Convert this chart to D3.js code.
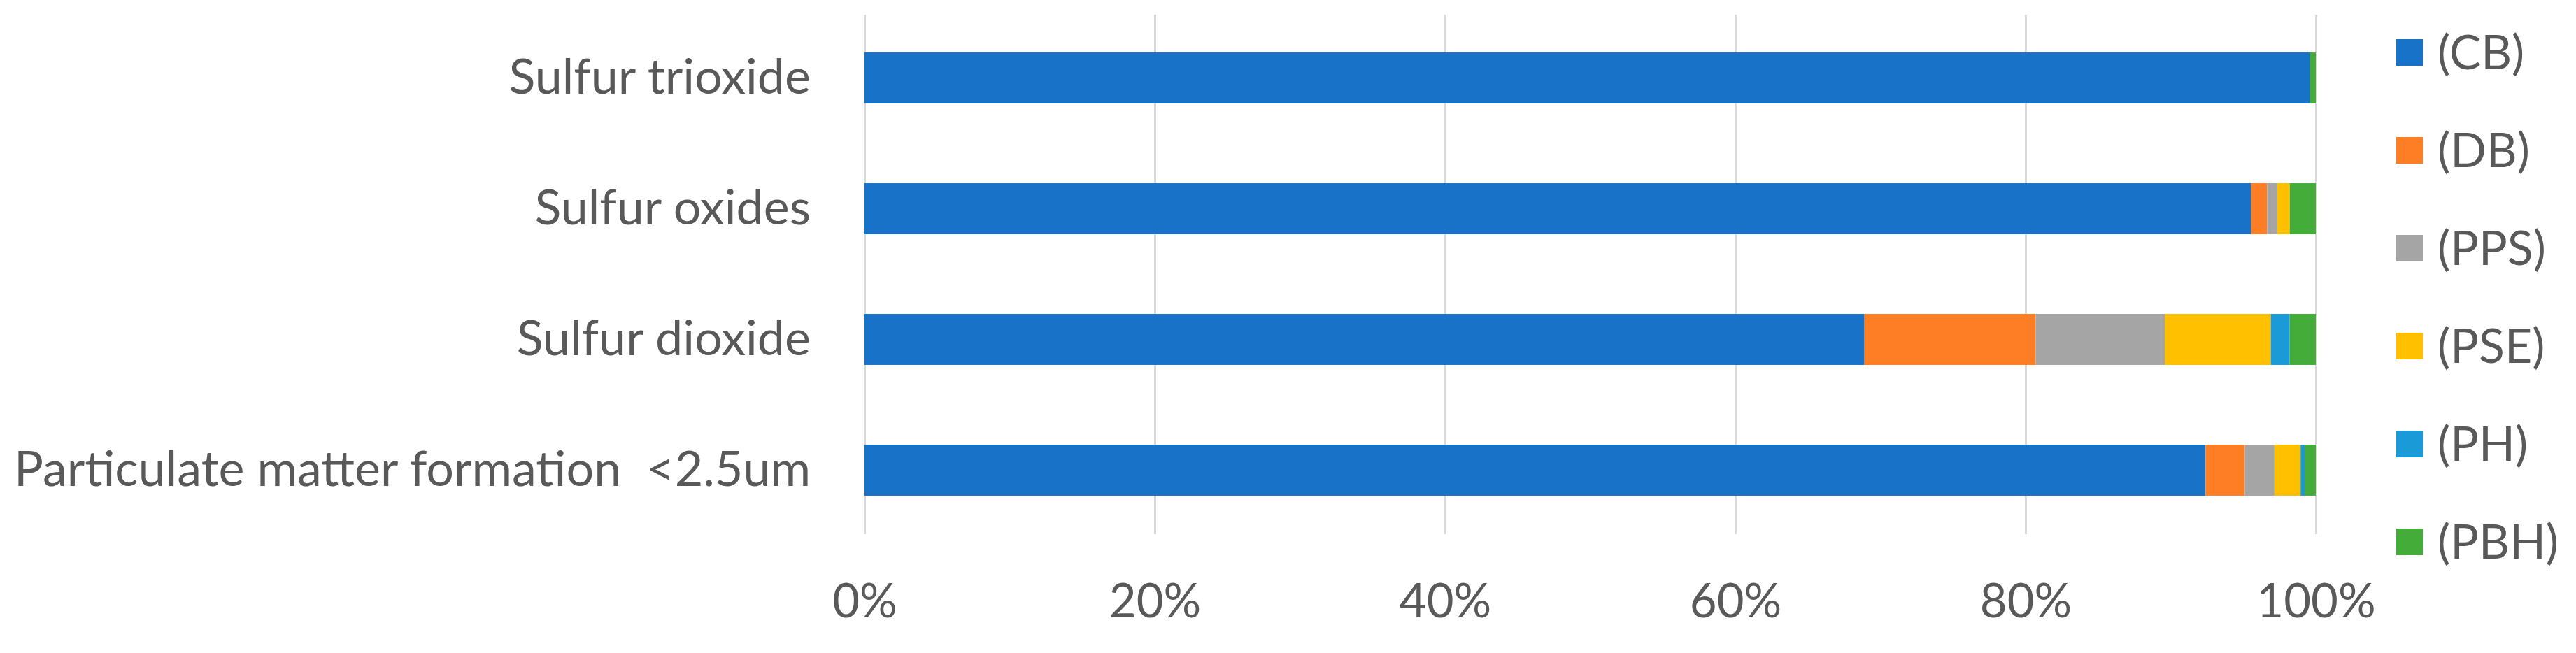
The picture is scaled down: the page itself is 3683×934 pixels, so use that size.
<!DOCTYPE html>
<html>
<head>
<meta charset="utf-8">
<script src="https://cdn.jsdelivr.net/npm/d3@7"></script>
<style>
body { margin: 0; background: #fff; }
text { font-family: Lato, "Open Sans", sans-serif; fill: #595959; }
</style>
</head>
<body>
<div id="vis"></div>
<script>
//data (share of each impact, %)
var categories = ["Sulfur trioxide", "Sulfur oxides", "Sulfur dioxide", "Particulate matter formation  <2.5um"];
var seriesNames = ["(CB)", "(DB)", "(PPS)", "(PSE)", "(PH)", "(PBH)"];
var CB  = [99.6, 95.5, 68.9, 92.4];
var DB  = [0,    1.1,  11.8, 2.7];
var PPS = [0,    0.7,  8.9,  2.05];
var PSE = [0,    0.85, 7.3,  1.8];
var PH  = [0,    0,    1.3,  0.3];
var PBH = [0.4,  1.8,  1.8,  0.75];
var tickValues = [0, 0.2, 0.4, 0.6, 0.8, 1];
var tickLabels = ["0%", "20%", "40%", "60%", "80%", "100%"];

var seriesColors = ["#1772C8", "#FD7E24", "#A5A5A5", "#FFC000", "#1A9BD8", "#44AD3A"];

//build the rows for the stack
var allSeries = [CB, DB, PPS, PSE, PH, PBH];
var rows = categories.map(function(c, i) {
  var r = {category: c};
  seriesNames.forEach(function(s, j) { r[s] = allSeries[j][i]; });
  return r;
});

var stack = d3.stack()
.keys(seriesNames)
.offset(d3.stackOffsetExpand);
var stacked = stack(rows);

var w = 3683;
var h = 934;

var svg = d3.select("#vis")
.append("svg")
.attr("width", w)
.attr("height", h);

//scales
var x = d3.scaleLinear()
.domain([0, 1])
.range([1236, 3311]);

var y = d3.scaleBand()
.domain(categories)
.range([18, 766])
.paddingInner(0.61)
.paddingOuter(0.305);

var color = d3.scaleOrdinal()
.domain(seriesNames)
.range(seriesColors);

//grid lines
var grid = svg.append("g")
.attr("transform", "translate(0, 764)")
.call(d3.axisBottom(x).tickValues(tickValues).tickSize(-743).tickFormat(""));
grid.select(".domain").remove();
grid.selectAll("line")
.attr("stroke", "#D9D9D9")
.attr("stroke-width", 3);

//bars
svg.selectAll("g.series")
.data(stacked)
.enter()
.append("g")
.attr("class", "series")
.attr("fill", function(d) { return color(d.key); })
.selectAll("rect")
.data(function(d) { return d; })
.enter()
.append("rect")
.attr("x", function(d) { return x(d[0]); })
.attr("width", function(d) { return x(d[1]) - x(d[0]); })
.attr("y", function(d) { return y(d.data.category); })
.attr("height", y.bandwidth());

//x axis labels
var xAxis = svg.append("g")
.attr("transform", "translate(0, 764)")
.call(d3.axisBottom(x).tickValues(tickValues).tickSize(0).tickPadding(0)
  .tickFormat(function(d, i) { return tickLabels[i]; }));
xAxis.select(".domain").remove();
xAxis.selectAll("text")
.attr("y", 119)
.attr("dy", 0)
.style("font-size", "67px")
.style("font-family", "Lato, sans-serif")
.attr("fill", "#595959");

//y axis labels
var yAxis = svg.append("g")
.attr("transform", "translate(1236, 0)")
.call(d3.axisLeft(y).tickSize(0).tickPadding(77));
yAxis.select(".domain").remove();
yAxis.selectAll("text")
.style("font-size", "70px")
.style("font-family", "Lato, sans-serif")
.style("white-space", "pre")
.attr("fill", "#595959");

//legend
var legend = svg.selectAll("g.legend")
.data(seriesNames)
.enter()
.append("g")
.attr("class", "legend")
.attr("transform", function(d, i) { return "translate(3426, " + (75 + i * 140) + ")"; });

legend.append("rect")
.attr("x", 0)
.attr("y", -19)
.attr("width", 38)
.attr("height", 38)
.attr("fill", function(d) { return color(d); });

legend.append("text")
.attr("x", 59)
.attr("dy", "0.35em")
.style("font-size", "68px")
.text(function(d) { return d; });
</script>
</body>
</html>
